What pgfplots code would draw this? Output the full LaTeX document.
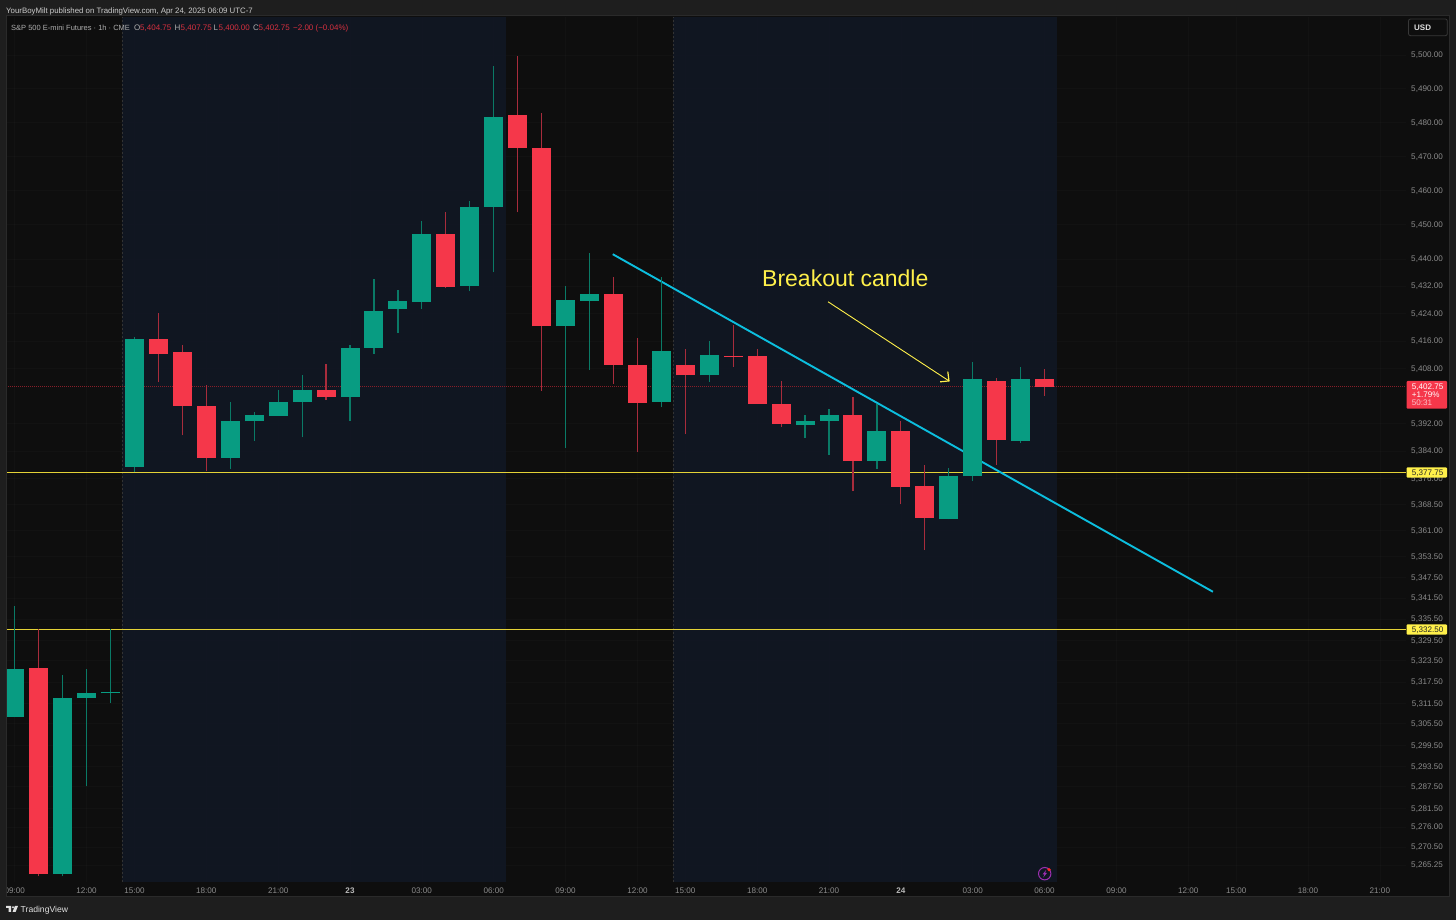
\documentclass[border=0pt]{standalone}
\usepackage{pgfplots}
\pgfplotsset{compat=1.18}
\usepackage{fontspec}
\setmainfont{Liberation Sans}
\definecolor{frame}{HTML}{1E1E1E}
\definecolor{border}{HTML}{2A2A2A}
\definecolor{pane}{HTML}{0E0E0E}
\definecolor{session}{HTML}{111724}
\definecolor{up}{HTML}{089C82}
\definecolor{down}{HTML}{F5374A}
\definecolor{upw}{HTML}{0A7A66}
\definecolor{downw}{HTML}{A82C3C}
\definecolor{tick}{HTML}{8C8C8C}
\definecolor{lev}{HTML}{E4D236}
\definecolor{note}{HTML}{FFF04A}
\definecolor{trend}{HTML}{0CBEDE}
\definecolor{hdr}{HTML}{D6303F}
\definecolor{bolt}{HTML}{9C2FB0}
% candle: {index}{low}{high}{body bottom}{body top}
\newcommand\cU[5]{\addplot[color=upw,line width=1.2pt] coordinates {(#1,#2)(#1,#3)};\addplot[color=up,line width=19pt] coordinates {(#1,#4)(#1,#5)};}
\newcommand\cD[5]{\addplot[color=downw,line width=1.2pt] coordinates {(#1,#2)(#1,#3)};\addplot[color=down,line width=19pt] coordinates {(#1,#4)(#1,#5)};}
\begin{document}
\begin{tikzpicture}
\path[use as bounding box] (0,0) rectangle (1456pt,920pt);
\fill[frame] (0,0) rectangle (1456pt,920pt);
\fill[pane] (6pt,23pt) rectangle (1449pt,904pt);
\draw[border,line width=1pt] (6pt,23pt) rectangle (1449pt,904pt);
\begin{axis}[
  at={(6pt,38.4pt)},anchor=south west,
  scale only axis,width=1400pt,height=865pt,
  xmin=-0.363,xmax=58.09,
  y coord trafo/.code={\begingroup\pgfkeys{/pgf/fpu=true,/pgf/fpu/output format=fixed}\pgfmathparse{ln(#1/5000)*18585}\pgfmathsmuggle\pgfmathresult\endgroup},
  ymin=5260.62,ymax=5511.26,
  axis line style={draw=none},
  major tick length=0pt,
  grid=major,
  grid style={white,opacity=0.018,line width=0.6pt},
  yticklabel pos=right,
  ytick={5500,5490,5480,5470,5460,5450,5440,5432,5424,5416,5408,5392,5384,5376,5368.5,5361,5353.5,5347.5,5341.5,5335.5,5329.5,5323.5,5317.5,5311.5,5305.5,5299.5,5293.5,5287.5,5281.5,5276,5270.5,5265.25},
  yticklabels={{5,500.00},{5,490.00},{5,480.00},{5,470.00},{5,460.00},{5,450.00},{5,440.00},{5,432.00},{5,424.00},{5,416.00},{5,408.00},{5,392.00},{5,384.00},{5,376.00},{5,368.50},{5,361.00},{5,353.50},{5,347.50},{5,341.50},{5,335.50},{5,329.50},{5,323.50},{5,317.50},{5,311.50},{5,305.50},{5,299.50},{5,293.50},{5,287.50},{5,281.50},{5,276.00},{5,270.50},{5,265.25}},
  yticklabel style={anchor=east,xshift=37pt,yshift=-0.5pt,font=\fontsize{8.1}{9}\selectfont,text=tick,inner sep=0pt},
  xtick={0,3,5,8,11,14,17,20,23,26,28,31,34,37,40,43,46,49,51,54,57},
  xticklabels={09:00,12:00,15:00,18:00,21:00,\textbf{\textcolor{white!72!black}{23}},03:00,06:00,09:00,12:00,15:00,18:00,21:00,\textbf{\textcolor{white!72!black}{24}},03:00,06:00,09:00,12:00,15:00,18:00,21:00},
  xticklabel style={anchor=center,yshift=-9pt,font=\fontsize{8.1}{9}\selectfont,text=tick,inner sep=0pt},
]
% session panels
\addplot[draw=none,fill=session,fill opacity=0.9] coordinates {(4.5,5260.62)(4.5,5511.26)(20.51,5511.26)(20.51,5260.62)} -- cycle;
\addplot[draw=none,fill=session,fill opacity=0.9] coordinates {(27.5,5260.62)(27.5,5511.26)(43.51,5511.26)(43.51,5260.62)} -- cycle;
\addplot[color=black!80,line width=0.5pt,dash pattern=on 2pt off 2pt] coordinates {(4.5,5260.62)(4.5,5511.26)};
\addplot[color=black!80,line width=0.5pt,dash pattern=on 2pt off 2pt] coordinates {(27.5,5260.62)(27.5,5511.26)};
% price levels
\addplot[color=down!55!black,line width=0.7pt,dash pattern=on 1pt off 1pt] coordinates {(-0.363,5402.75)(58.09,5402.75)};
\addplot[color=lev,line width=1pt] coordinates {(-0.363,5377.75)(58.09,5377.75)};
\addplot[color=lev,line width=1pt] coordinates {(-0.363,5332.5)(58.09,5332.5)};
% trend line
\addplot[color=trend,line width=1.9pt] coordinates {(24.97,5441.34)(50.03,5343.38)};
% candles
\cU{0}{5307.25}{5339.25}{5307.25}{5321}
\cD{1}{5262}{5332.5}{5262.75}{5321.25}
\cU{2}{5262}{5319.5}{5262.75}{5313}
\cU{3}{5287.5}{5321}{5312.75}{5314.25}
\cU{4}{5311.5}{5332.5}{5314.25}{5314.5}
\cU{5}{5377.75}{5417.25}{5379.5}{5416.5}
\cD{6}{5404}{5424}{5412.25}{5416.5}
\cD{7}{5388.5}{5414.75}{5397}{5412.75}
\cD{8}{5378}{5403}{5382}{5397}
\cU{9}{5378.75}{5398.25}{5382}{5392.75}
\cU{10}{5387}{5395.25}{5392.5}{5394.5}
\cU{11}{5394.25}{5401.75}{5394.25}{5398.25}
\cU{12}{5388}{5406}{5398.25}{5401.75}
\cD{13}{5398.75}{5409.25}{5399.75}{5401.75}
\cU{14}{5392.75}{5414.75}{5399.5}{5414}
\cU{15}{5412.25}{5434}{5414}{5424.75}
\cU{16}{5418.25}{5431}{5425.25}{5427.5}
\cU{17}{5425.25}{5451}{5427.25}{5447.25}
\cD{18}{5431.5}{5453.5}{5431.75}{5447.25}
\cU{19}{5430.5}{5456.75}{5432}{5455.25}
\cU{20}{5436}{5496.75}{5455.25}{5481.75}
\cD{21}{5453.5}{5499.75}{5472.5}{5482.25}
\cD{22}{5401.5}{5482.75}{5420.25}{5472.5}
\cU{23}{5385}{5432}{5420.25}{5428}
\cU{24}{5407.5}{5441.75}{5427.5}{5429.75}
\cD{25}{5403.5}{5434.75}{5409}{5429.75}
\cD{26}{5383.75}{5417}{5398}{5409}
\cU{27}{5396.5}{5434.75}{5398.25}{5413}
\cD{28}{5388.75}{5413.5}{5406}{5409}
\cU{29}{5404}{5416}{5406}{5411.75}
\cD{30}{5408.25}{5420.75}{5411.25}{5411.5}
\cD{31}{5397.75}{5413.5}{5397.75}{5411.5}
\cD{32}{5391}{5404.25}{5391.75}{5397.5}
\cU{33}{5387.75}{5394.5}{5391.5}{5392.75}
\cU{34}{5383}{5396.25}{5392.75}{5394.5}
\cD{35}{5372.25}{5399.5}{5381}{5394.5}
\cU{36}{5378.75}{5397.75}{5381}{5389.75}
\cD{37}{5368.5}{5392.75}{5373.75}{5389.75}
\cD{38}{5355.25}{5380}{5364.75}{5374}
\cU{39}{5364.25}{5379.25}{5364.25}{5376.75}
\cU{40}{5375.25}{5409.75}{5376.5}{5404.75}
\cD{41}{5380}{5405.25}{5387.25}{5404.25}
\cU{42}{5386.5}{5408.25}{5387}{5404.75}
\cD{43}{5400}{5407.75}{5402.75}{5404.75}
% annotation arrow
\addplot[color=note,line width=0.9pt] coordinates {(33.96,5427.39)(39.01,5404.37)};
\addplot[color=note,line width=1.2pt] coordinates {(38.64,5404.08)(39.01,5404.37)(38.96,5407.08)};
\end{axis}
\begin{scope}[x=1pt,y=-1pt,yshift=920pt]
\fill[frame] (0,23) rectangle (5.5,897);
\draw[border,line width=1pt] (6,16) -- (6,897);
\tikzset{lab/.style={anchor=base west,inner sep=0pt,font=\fontsize{8}{9}\selectfont}}
\node[lab,text=white!80!black,font=\fontsize{7.85}{9}\selectfont] at (6,14) {YourBoyMilt published on TradingView.com, Apr 24, 2025 06:09 UTC-7};
\node[lab,text=white!68!black,font=\fontsize{7.5}{9}\selectfont] at (11,30.3) {S\&P 500 E-mini Futures · 1h · CME};
\node[lab,text=white!68!black] at (134,30.3) {O};
\node[lab,text=hdr] at (140,30.3) {5,404.75};
\node[lab,text=white!68!black] at (174.5,30.3) {H};
\node[lab,text=hdr] at (180.5,30.3) {5,407.75};
\node[lab,text=white!68!black] at (213.5,30.3) {L};
\node[lab,text=hdr] at (218.5,30.3) {5,400.00};
\node[lab,text=white!68!black] at (253,30.3) {C};
\node[lab,text=hdr] at (258.5,30.3) {5,402.75};
\node[lab,text=hdr] at (293,30.3) {−2.00 (−0.04\%)};
\draw[white!22!black,line width=0.8pt,rounded corners=2pt,fill=pane] (1408.5,19) rectangle (1447.3,35.7);
\node[lab,text=white!88!black,font=\fontsize{8}{9}\selectfont\bfseries] at (1414,30.5) {USD};
% price tags
\fill[down,rounded corners=1pt] (1406.5,381) rectangle (1447,408.7);
\node[lab,text=white,font=\fontsize{8.1}{9}\selectfont] at (1411.7,389.5) {5,402.75};
\node[lab,text=white,font=\fontsize{8.1}{9}\selectfont] at (1411.7,397.8) {+1.79\%};
\node[lab,text=white!70!down,font=\fontsize{8.1}{9}\selectfont] at (1411.7,406) {50:31};
\fill[note,rounded corners=1pt] (1406.5,467.3) rectangle (1447,477.7);
\node[lab,text=black!85,font=\fontsize{8.1}{9}\selectfont] at (1411.7,475.4) {5,377.75};
\fill[note,rounded corners=1pt] (1406.5,624.3) rectangle (1447,634.7);
\node[lab,text=black!85,font=\fontsize{8.1}{9}\selectfont] at (1411.7,632.4) {5,332.50};
% annotation
\node[anchor=base west,inner sep=0pt,text=note,font=\fontsize{23}{26}\selectfont] at (762,286.5) {Breakout candle};
% replay icon
\draw[bolt,line width=1pt] (1044.7,873.7) circle (6.2);
\fill[bolt] (1046.2,869.8) -- (1042.6,874.3) -- (1044.5,874.3) -- (1043.2,877.6) -- (1046.9,873) -- (1045,873) -- cycle;
\fill[red!85!white] (1049,869.7) circle (1.8);
% footer logo
\fill[white!88!black] (6,906) rectangle (11,908) (8.6,908) rectangle (11,912) (13,907.2) circle (1.1);
\fill[white!88!black] (14.9,906) -- (18,906) -- (15.6,912) -- (12.5,912) -- cycle;
\node[lab,text=white!88!black,font=\fontsize{8.6}{10}\selectfont] at (20.5,912.3) {TradingView};
\end{scope}
\end{tikzpicture}
\end{document}
